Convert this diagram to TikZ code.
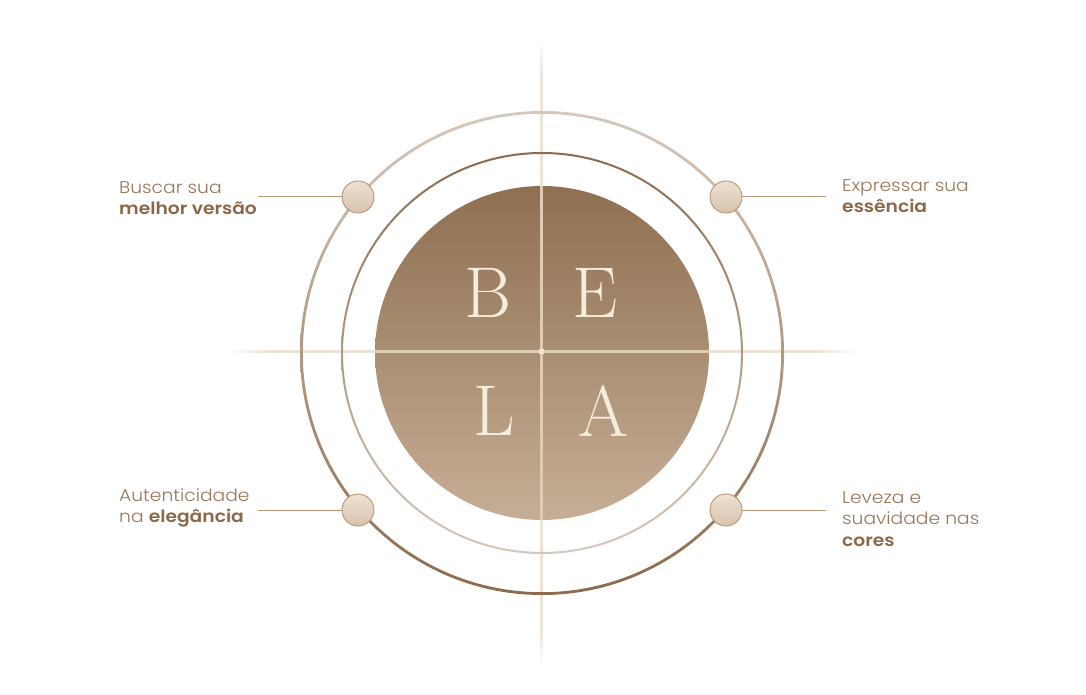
\documentclass[tikz,border=0pt]{standalone}
\usepackage{fontspec}
\newfontfamily\labelfont{Poppins}[UprightFont=* Light, BoldFont=* SemiBold, FakeStretch=1.1]
\usetikzlibrary{calc}
\definecolor{txt}{RGB}{152,118,88}
\definecolor{txtb}{RGB}{140,104,72}
\definecolor{ringdark}{RGB}{140,106,76}
\definecolor{ringlight}{RGB}{214,200,186}
\definecolor{discTop}{RGB}{142,111,80}
\definecolor{discBot}{RGB}{198,174,150}
\definecolor{crossout}{RGB}{236,226,216}
\definecolor{crossin}{RGB}{222,204,180}
\definecolor{dotTop}{RGB}{238,226,210}
\definecolor{dotBot}{RGB}{214,195,174}
\definecolor{dotEdge}{RGB}{188,148,112}
\definecolor{conn}{RGB}{190,150,115}
\definecolor{letter}{RGB}{246,236,222}
\tikzset{
  dotnode/.style={circle, minimum size=32pt, inner sep=0pt, draw=dotEdge, line width=0.9pt, top color=dotTop, bottom color=dotBot},
  connline/.style={draw=conn, line width=1pt},
  label/.style={anchor=west, align=left, text=txt, font=\labelfont\fontsize{17}{21.5}\selectfont, inner sep=0pt},
  bela/.style={text=letter, font=\fontsize{72}{72}\selectfont, inner sep=0pt},
}
\begin{document}
\begin{tikzpicture}[x=1pt,y=1pt]
\useasboundingbox (0,0) rectangle (1086,694);
\fill[white] (0,0) rectangle (1086,694);
\coordinate (C) at (542,341);
% cross lines outside, faded ends
\foreach \i in {0,...,19}{
  \pgfmathsetmacro{\p}{5*(\i+0.5)}
  \fill[crossout!\p!white] ({228+2*\i},340.5) rectangle ({230.2+2*\i},343.5);
  \fill[crossout!\p!white] ({858-2*\i},340.5) rectangle ({855.8-2*\i},343.5);
  \fill[crossout!\p!white] (539.5,{654-2*\i}) rectangle (542.5,{651.8-2*\i});
  \fill[crossout!\p!white] (539.5,{26+2*\i}) rectangle (542.5,{28.2+2*\i});
}
\fill[crossout] (268,340.5) rectangle (818,343.5);
\fill[crossout] (539.5,614) rectangle (542.5,66);
% rings
\shade[top color=ringlight, bottom color=ringdark, even odd rule] (C) circle (242) circle (239.2);
\shade[top color=ringdark, bottom color=ringlight, even odd rule] (C) circle (201) circle (199);
% disc
\shade[top color=discTop, bottom color=discBot] (C) circle (167);
\begin{scope}
\clip (C) circle (167);
\fill[crossin] (375,340.5) rectangle (710,343.5);
\fill[crossin] (539.5,174) rectangle (542.5,508);
\fill[letter!70!crossin] (538.5,339.5) rectangle (543.5,344.5);
\end{scope}
% letters
\node[bela] (B) at (488,401) {B};
\node[bela] (E) at (595,401) {E};
\node[bela] (L) at (494,283) {L};
\node[bela] (A) at (603,283) {A};
% dots
\node[dotnode] (d1) at (358,497) {};
\node[dotnode] (d2) at (726,497) {};
\node[dotnode] (d3) at (358,184) {};
\node[dotnode] (d4) at (726,184) {};
% labels
\node[label] (t1) at (119,496) {Buscar sua\\\textbf{\color{txtb}melhor versão}};
\node[label] (t2) at (842,498) {Expressar sua\\\textbf{\color{txtb}essência}};
\node[label] (t3) at (119,186) {Autenticidade\\na \textbf{\color{txtb}elegância}};
\node[label] (t4) at (842,175) {Leveza e\\suavidade nas\\\textbf{\color{txtb}cores}};
\coordinate (c1) at (258,497);
\coordinate (c2) at (826,497);
\coordinate (c3) at (258,184);
\coordinate (c4) at (826,184);
\draw[connline] (d1.west) -- (c1);
\draw[connline] (d2.east) -- (c2);
\draw[connline] (d3.west) -- (c3);
\draw[connline] (d4.east) -- (c4);
\end{tikzpicture}
\end{document}
